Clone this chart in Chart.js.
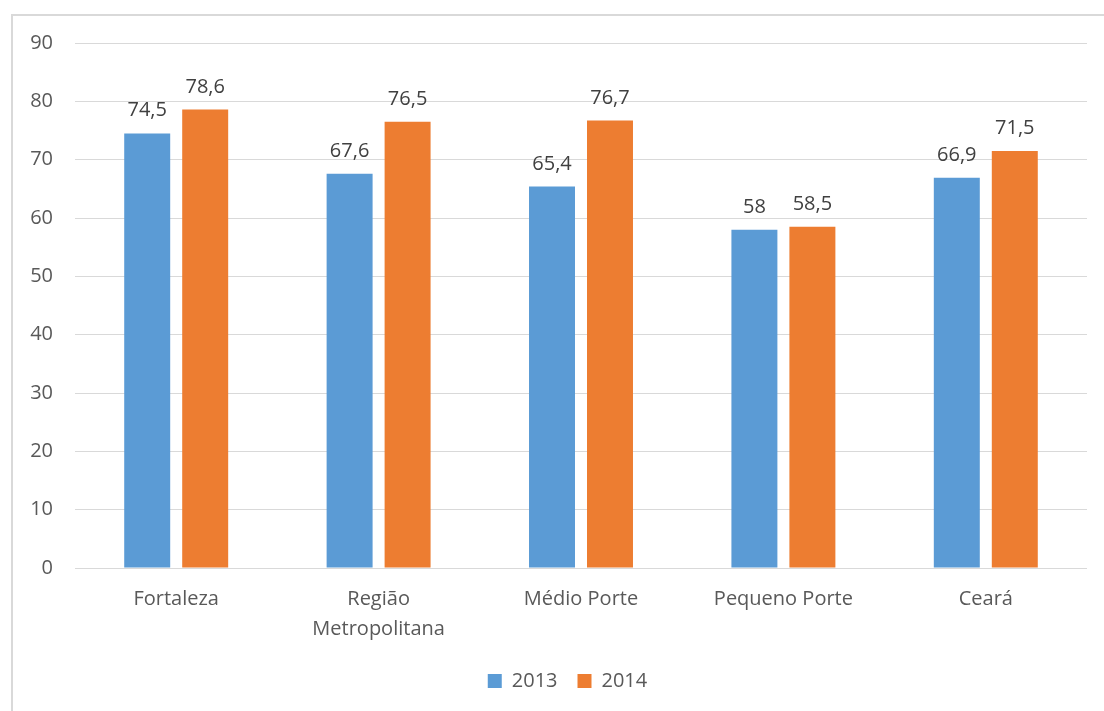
<!DOCTYPE html>
<html>
<head>
<meta charset="utf-8">
<script src="https://cdn.jsdelivr.net/npm/chart.js@4"></script>
<style>
  html, body { margin: 0; padding: 0; background: #fff; overflow: hidden; }
  #frame { position: absolute; left: 11px; top: 14px; width: 1200px; height: 800px; border: 2px solid #d9d9d9; }
  #wrap { position: absolute; left: 0; top: 0; width: 1104px; height: 711px; }
</style>
</head>
<body>
<div id="frame"></div>
<div id="wrap"><canvas id="chart"></canvas></div>
<script>
const categories = ["Fortaleza", ["Região", "Metropolitana"], "Médio Porte", "Pequeno Porte", "Ceará"];
const values2013 = [74.5, 67.6, 65.4, 58, 66.9];
const values2014 = [78.6, 76.5, 76.7, 58.5, 71.5];
const seriesNames = ["2013", "2014"];

const FONT = "'Open Sans', sans-serif";

// Draws the value above each bar, with a decimal comma
const barLabels = {
  id: "barLabels",
  afterDatasetsDraw(chart) {
    const ctx = chart.ctx;
    ctx.save();
    ctx.font = "20px " + FONT;
    ctx.fillStyle = "#404040";
    ctx.textAlign = "center";
    ctx.textBaseline = "alphabetic";
    chart.data.datasets.forEach((ds, i) => {
      chart.getDatasetMeta(i).data.forEach((bar, j) => {
        const txt = String(ds.data[j]).replace(".", ",");
        ctx.fillText(txt, bar.x, bar.y - 17);
      });
    });
    ctx.restore();
  },
};

// Legend sits a bit right of the canvas centre, as in the original
const shiftLegend = {
  id: "shiftLegend",
  afterLayout(chart) {
    chart.legend.left += 24;
    chart.legend.right += 24;
  },
};

new Chart(document.getElementById("chart"), {
  type: "bar",
  data: {
    labels: categories,
    datasets: [
      { label: seriesNames[0], data: values2013, backgroundColor: "#5b9bd5" },
      { label: seriesNames[1], data: values2014, backgroundColor: "#ed7d31" },
    ],
  },
  options: {
    responsive: true,
    maintainAspectRatio: false,
    animation: false,
    categoryPercentage: 0.573,
    barPercentage: 0.793,
    layout: { padding: { left: 0, top: 43, right: 17, bottom: 10 } },
    plugins: {
      legend: {
        position: "bottom",
        labels: {
          color: "#595959",
          font: { family: FONT, size: 20 },
          boxWidth: 14,
          boxHeight: 14,
          padding: 20,
        },
      },
      tooltip: { enabled: false },
    },
    scales: {
      y: {
        min: 0,
        max: 90,
        ticks: { stepSize: 10, color: "#595959", font: { family: FONT, size: 20 }, padding: 22 },
        grid: { color: "#d9d9d9", drawTicks: false },
        border: { display: false },
        afterFit(scale) { scale.width = 75; },
      },
      x: {
        ticks: { color: "#595959", font: { family: FONT, size: 20, lineHeight: 1.5 }, padding: 8, maxRotation: 0 },
        grid: { display: false },
        border: { display: false },
        afterFit(scale) { scale.height = 83; },
      },
    },
  },
  plugins: [barLabels, shiftLegend],
});
</script>
</body>
</html>
